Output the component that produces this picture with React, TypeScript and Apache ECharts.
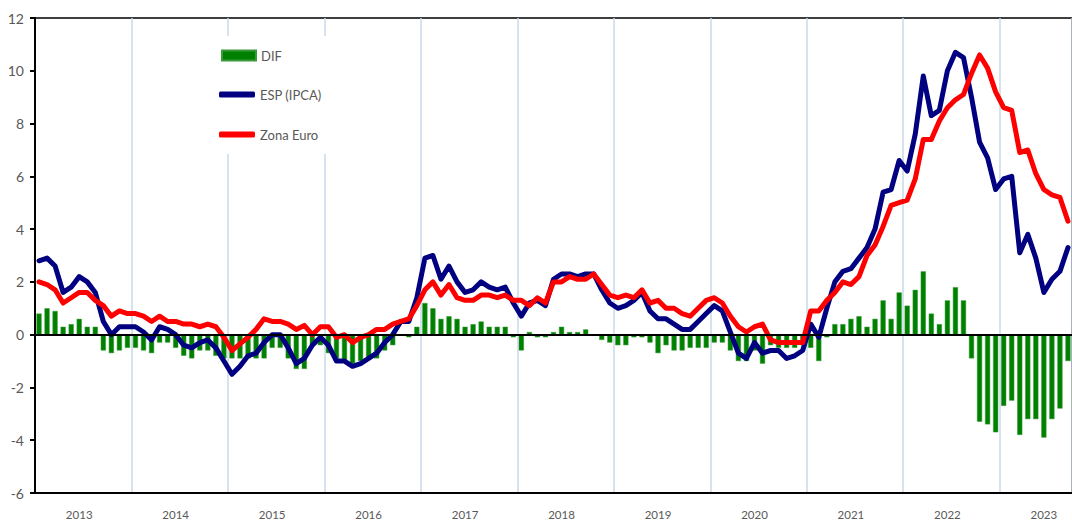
import React, { useEffect, useRef } from "react";
import * as echarts from "echarts";

const YEARS = ["2013", "2014", "2015", "2016", "2017", "2018", "2019", "2020", "2021", "2022", "2023"];
const MONTHS = ["01", "02", "03", "04", "05", "06", "07", "08", "09", "10", "11", "12"];
const LAST_MONTHS_2023 = 9;

const ESP = [
  2.8, 2.9, 2.6, 1.6, 1.8, 2.2, 2.0, 1.6, 0.5, 0.0, 0.3, 0.3,
  0.3, 0.1, -0.2, 0.3, 0.2, 0.0, -0.4, -0.5, -0.3, -0.2, -0.5, -1.0,
  -1.5, -1.2, -0.8, -0.7, -0.3, 0.0, 0.0, -0.5, -1.1, -0.9, -0.4, -0.1,
  -0.4, -1.0, -1.0, -1.2, -1.1, -0.9, -0.7, -0.3, 0.0, 0.5, 0.5, 1.4,
  2.9, 3.0, 2.1, 2.6, 2.0, 1.6, 1.7, 2.0, 1.8, 1.7, 1.8, 1.2,
  0.7, 1.2, 1.3, 1.1, 2.1, 2.3, 2.3, 2.2, 2.3, 2.3, 1.7, 1.2,
  1.0, 1.1, 1.3, 1.6, 0.9, 0.6, 0.6, 0.4, 0.2, 0.2, 0.5, 0.8,
  1.1, 0.9, 0.1, -0.7, -0.9, -0.3, -0.7, -0.6, -0.6, -0.9, -0.8, -0.6,
  0.4, -0.1, 1.0, 2.0, 2.4, 2.5, 2.9, 3.3, 4.0, 5.4, 5.5, 6.6,
  6.2, 7.6, 9.8, 8.3, 8.5, 10.0, 10.7, 10.5, 9.0, 7.3, 6.7, 5.5,
  5.9, 6.0, 3.1, 3.8, 2.9, 1.6, 2.1, 2.4, 3.3,
];

const EURO = [
  2.0, 1.9, 1.7, 1.2, 1.4, 1.6, 1.6, 1.3, 1.1, 0.7, 0.9, 0.8,
  0.8, 0.7, 0.5, 0.7, 0.5, 0.5, 0.4, 0.4, 0.3, 0.4, 0.3, -0.1,
  -0.6, -0.35, -0.1, 0.2, 0.6, 0.5, 0.5, 0.4, 0.2, 0.35, 0.0, 0.3,
  0.3, -0.1, 0.0, -0.3, -0.1, 0.0, 0.2, 0.2, 0.4, 0.5, 0.6, 1.1,
  1.7, 2.0, 1.5, 1.9, 1.4, 1.3, 1.3, 1.5, 1.5, 1.4, 1.5, 1.3,
  1.3, 1.1, 1.4, 1.2, 2.0, 2.0, 2.2, 2.1, 2.1, 2.3, 1.9, 1.5,
  1.4, 1.5, 1.4, 1.7, 1.2, 1.3, 1.0, 1.0, 0.8, 0.7, 1.0, 1.3,
  1.4, 1.2, 0.7, 0.3, 0.1, 0.3, 0.4, -0.2, -0.3, -0.3, -0.3, -0.3,
  0.9, 0.9, 1.3, 1.6, 2.0, 1.9, 2.2, 3.0, 3.4, 4.1, 4.9, 5.0,
  5.1, 5.9, 7.4, 7.4, 8.1, 8.6, 8.9, 9.1, 9.9, 10.6, 10.1, 9.2,
  8.6, 8.5, 6.9, 7.0, 6.1, 5.5, 5.3, 5.2, 4.3,
];

const DIF = [
  0.8, 1.0, 0.9, 0.3, 0.4, 0.6, 0.3, 0.3, -0.6, -0.7, -0.6, -0.5,
  -0.5, -0.6, -0.7, -0.3, -0.3, -0.5, -0.8, -0.9, -0.6, -0.6, -0.8, -0.9,
  -0.9, -0.9, -0.9, -0.9, -0.9, -0.5, -0.5, -0.9, -1.3, -1.3, -0.4, -0.4,
  -0.7, -0.9, -1.0, -1.1, -1.0, -0.9, -0.9, -0.6, -0.4, 0.0, -0.1, 0.3,
  1.2, 1.0, 0.6, 0.7, 0.6, 0.3, 0.4, 0.5, 0.3, 0.3, 0.3, -0.1,
  -0.6, 0.1, -0.1, -0.1, 0.1, 0.3, 0.1, 0.1, 0.2, 0.0, -0.2, -0.3,
  -0.4, -0.4, -0.1, -0.1, -0.3, -0.7, -0.4, -0.6, -0.6, -0.5, -0.5, -0.5,
  -0.3, -0.3, -0.6, -1.0, -1.0, -0.6, -1.1, -0.4, -0.5, -0.5, -0.5, -0.4,
  -0.5, -1.0, -0.1, 0.4, 0.4, 0.6, 0.7, 0.3, 0.6, 1.3, 0.6, 1.6,
  1.1, 1.7, 2.4, 0.8, 0.4, 1.3, 1.8, 1.3, -0.9, -3.3, -3.4, -3.7,
  -2.7, -2.5, -3.8, -3.2, -3.2, -3.9, -3.2, -2.8, -1.0,
];

const Y_TICKS = { min: -6, max: 12, interval: 2 };

const CATEGORIES: string[] = [];
YEARS.forEach((y, yi) => {
  const n = yi === YEARS.length - 1 ? LAST_MONTHS_2023 : 12;
  for (let m = 0; m < n; m++) CATEGORIES.push(`${y}-${MONTHS[m]}`);
});

const FONT = 'Lato, "Open Sans", sans-serif';
const TEXT_COLOR = "#595959";

export default function App() {
  const ref = useRef<HTMLDivElement>(null);
  useEffect(() => {
    if (!ref.current) return;
    const chart = echarts.init(ref.current, null, { renderer: "svg" });
    const legendBase = {
      orient: "vertical",
      padding: 0,
      selectedMode: false,
      textStyle: { color: TEXT_COLOR, fontSize: 13, fontFamily: FONT },
    };
    chart.setOption({
      animation: false,
      backgroundColor: "#ffffff",
      grid: {
        left: 35,
        top: 18,
        width: 1041.5,
        bottom: 29,
        show: true,
        borderColor: "#000",
        borderWidth: 1.5,
        backgroundColor: "transparent",
      },
      graphic: [
        {
          type: "rect",
          z: 1,
          shape: { x: 203, y: 36, width: 132, height: 118 },
          style: { fill: "#ffffff" },
        },
      ],
      legend: [
        {
          ...legendBase,
          left: 221,
          top: 49,
          itemWidth: 34,
          itemHeight: 10,
          icon: "rect",
          data: ["DIF"],
        },
        {
          ...legendBase,
          left: 219,
          top: 88,
          itemWidth: 36,
          itemHeight: 6,
          icon: "roundRect",
          data: ["ESP (IPCA)"],
        },
        {
          ...legendBase,
          left: 219,
          top: 128,
          itemWidth: 36,
          itemHeight: 6,
          icon: "roundRect",
          data: ["Zona Euro"],
        },
      ],
      xAxis: {
        type: "category",
        data: CATEGORIES,
        boundaryGap: true,
        axisLine: { onZero: false, lineStyle: { color: "#000", width: 2 } },
        axisTick: { show: false },
        axisLabel: {
          interval: (idx: number) => idx % 12 === 5,
          formatter: (v: string) => v.slice(0, 4),
          color: TEXT_COLOR,
          fontSize: 11.5,
          fontFamily: FONT,
          margin: 15,
        },
        splitLine: {
          show: true,
          interval: (idx: number) => idx % 12 === 0 && idx > 0,
          lineStyle: { color: "#cad8ea", width: 1.5 },
        },
      },
      yAxis: {
        type: "value",
        min: Y_TICKS.min,
        max: Y_TICKS.max,
        interval: Y_TICKS.interval,
        axisLine: { show: true, lineStyle: { color: "#000", width: 2 } },
        axisTick: { show: true, inside: false, length: 5, lineStyle: { color: "#000", width: 2 } },
        axisLabel: { color: TEXT_COLOR, fontSize: 14, fontFamily: FONT, margin: 11 },
        splitLine: { show: false },
      },
      series: [
        {
          name: "DIF",
          type: "bar",
          data: DIF,
          barWidth: "64%",
          itemStyle: { color: "#008000", borderColor: "#3a9a3a", borderWidth: 0.5 },
          z: 2,
          markLine: {
            silent: true,
            symbol: ["none", "none"],
            label: { show: false },
            lineStyle: { color: "#000", width: 2, type: "solid" },
            data: [{ yAxis: 0 }],
          },
        },
        {
          name: "ESP (IPCA)",
          type: "line",
          data: ESP,
          symbol: "none",
          itemStyle: { color: "#000080" },
          lineStyle: { color: "#000080", width: 5, cap: "round", join: "round" },
          z: 3,
        },
        {
          name: "Zona Euro",
          type: "line",
          data: EURO,
          symbol: "none",
          itemStyle: { color: "#ff0000" },
          lineStyle: { color: "#ff0000", width: 5, cap: "round", join: "round" },
          z: 4,
        },
      ],
    });
    return () => chart.dispose();
  }, []);
  return (
    <div
      ref={ref}
      style={{ position: "fixed", left: 0, top: 0, width: 1072, height: 522 }}
    />
  );
}
